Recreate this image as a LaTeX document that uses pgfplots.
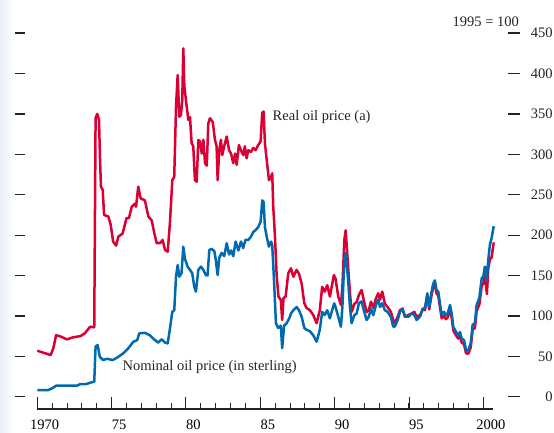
\documentclass[border=0pt]{standalone}
\usepackage{pgfplots}
\pgfplotsset{compat=1.18}
\usepackage{pgfplotstable}
\usepackage{fontspec}
\setmainfont{Liberation Serif}
\definecolor{realred}{RGB}{218,0,52}
\definecolor{nomblue}{RGB}{0,106,176}
\definecolor{tickc}{RGB}{35,35,35}
\definecolor{stripc}{RGB}{234,239,245}
\newcommand{\lblfont}{\fontsize{14.5}{17}\selectfont}

\pgfplotstableread{
year value
1970.00 57
1970.40 54.5
1970.90 51.6
1971.08 60
1971.26 76
1971.50 75
1972.00 71
1972.40 73.5
1972.90 75
1973.20 78.5
1973.55 86.6
1973.83 86
1973.92 345
1974.03 350
1974.15 342.5
1974.22 293
1974.28 260
1974.40 256
1974.49 225
1974.78 223
1974.94 212.5
1975.10 192
1975.30 187
1975.45 198
1975.74 202
1976.00 221
1976.16 221
1976.35 235
1976.57 239
1976.64 235
1976.79 260
1976.95 245.5
1977.24 243
1977.47 223
1977.70 218
1977.85 204
1978.03 190
1978.25 190
1978.43 194
1978.59 181.6
1978.77 179.5
1978.92 215
1979.08 268
1979.21 272
1979.33 359
1979.44 398
1979.55 346.5
1979.66 348.6
1979.75 367
1979.82 431
1979.89 384
1980.05 359
1980.16 342.5
1980.27 346
1980.38 313.6
1980.49 310
1980.60 268
1980.72 266
1980.83 317.7
1980.94 316
1981.06 301
1981.17 318
1981.28 289
1981.40 286
1981.50 338
1981.61 344.6
1981.80 340
1981.95 317.7
1982.06 310
1982.13 268
1982.24 305
1982.35 318
1982.44 299
1982.57 310
1982.74 322
1982.90 305
1983.03 301
1983.18 289
1983.30 301
1983.41 287
1983.56 311.5
1983.70 305
1983.85 299
1983.96 310
1984.08 295
1984.19 305
1984.37 303
1984.53 308
1984.68 305
1984.86 311.5
1985.02 316
1985.13 351.5
1985.22 353
1985.31 313.6
1985.43 293
1985.58 268
1985.72 272
1985.80 276.5
1985.87 235
1985.98 200
1986.10 150
1986.22 124
1986.38 119.7
1986.47 95
1986.56 122
1986.70 124
1986.88 152.7
1987.06 159
1987.22 148.5
1987.44 157
1987.60 152
1987.78 140
1987.96 115.6
1988.10 110
1988.34 107
1988.56 101
1988.79 91
1989.00 107
1989.16 136
1989.33 130
1989.50 138
1989.68 124
1989.80 136
1989.95 150.6
1990.06 146
1990.24 124
1990.42 113.5
1990.52 136
1990.65 194
1990.74 206
1990.80 190
1990.92 157
1991.03 128
1991.14 105
1991.33 115
1991.48 117
1991.63 126
1991.81 132
1991.99 117
1992.15 105
1992.30 107
1992.44 117.6
1992.60 110
1992.78 122
1992.93 128
1993.05 120
1993.20 130
1993.38 115
1993.56 111
1993.78 105
1993.94 95
1994.05 91
1994.24 99
1994.39 107
1994.56 109
1994.73 99
1994.95 101
1995.18 103
1995.36 105
1995.51 99
1995.74 101
1995.96 109
1996.07 107
1996.23 125
1996.36 108
1996.50 124
1996.63 136
1996.74 139
1996.85 128
1996.97 125
1997.08 111
1997.20 97
1997.35 100
1997.48 96
1997.60 98
1997.76 108
1997.87 98
1997.98 82
1998.16 76
1998.31 72
1998.43 75
1998.54 67
1998.70 65
1998.83 54
1998.98 53
1999.15 61
1999.28 83
1999.43 85
1999.55 106
1999.73 114
1999.89 137
2000.00 140
2000.10 150
2000.24 127
2000.33 158
2000.44 170
2000.55 172
2000.70 191
}\realtab

\pgfplotstableread{
year value
1970.00 8.3
1970.70 8
1971.00 10.4
1971.26 13.6
1971.70 13.6
1972.65 13.6
1972.90 15.7
1973.30 15.7
1973.55 17.3
1973.83 18.6
1973.92 62
1974.06 64
1974.20 49.5
1974.42 45.4
1974.69 47
1975.07 45.4
1975.38 48.5
1975.78 53.7
1976.12 60
1976.46 68
1976.72 70
1976.86 78.5
1977.24 79
1977.58 76
1977.85 71
1978.14 67
1978.36 71
1978.59 67
1978.77 66
1978.92 84
1979.08 105
1979.21 107
1979.33 148.5
1979.44 163
1979.55 148.5
1979.70 153
1979.82 185.6
1979.94 170
1980.11 161
1980.27 157
1980.42 152.7
1980.56 136
1980.67 130
1980.83 157
1981.01 161
1981.17 157
1981.33 150.6
1981.45 150
1981.57 181.6
1981.73 183
1981.91 180
1982.00 170
1982.13 150.6
1982.24 172
1982.40 178
1982.57 174
1982.74 190
1982.90 176
1983.03 181
1983.18 174
1983.34 192
1983.52 181
1983.70 192
1983.85 184
1984.00 194
1984.19 194
1984.37 198
1984.53 204
1984.68 206
1984.86 210
1985.02 216.6
1985.13 243
1985.22 241
1985.31 210
1985.43 198
1985.58 185.6
1985.72 192
1985.80 188
1985.92 144.4
1986.05 91
1986.20 85
1986.38 88
1986.47 60
1986.60 88
1986.77 91
1986.95 97
1987.06 103
1987.22 107
1987.44 111
1987.60 107
1987.78 99
1987.96 85
1988.10 83
1988.34 81
1988.56 76
1988.79 68
1989.00 83
1989.16 105
1989.33 101
1989.50 107
1989.68 97
1989.80 105
1989.97 115.6
1990.06 111
1990.24 99
1990.42 86.6
1990.52 111
1990.65 169
1990.74 177.5
1990.80 167
1990.92 140
1991.03 111
1991.14 91
1991.33 101
1991.48 103
1991.63 115.6
1991.81 118
1991.99 105
1992.15 95
1992.30 99
1992.44 109
1992.60 101
1992.78 113.5
1992.93 120
1993.05 111
1993.20 115.6
1993.38 107
1993.56 105
1993.78 99
1993.94 86.6
1994.05 87
1994.24 95
1994.39 105
1994.56 109
1994.73 99
1994.95 99
1995.18 103
1995.33 102
1995.51 95
1995.74 99
1995.92 109
1996.07 109
1996.23 128
1996.36 111
1996.50 128
1996.63 140
1996.74 144
1996.85 132
1996.97 130
1997.08 115.6
1997.20 101
1997.35 105
1997.48 101
1997.60 103
1997.76 113.5
1997.87 103
1997.98 86.6
1998.16 80.4
1998.31 76
1998.43 80
1998.54 72
1998.70 70
1998.83 58
1998.98 57
1999.15 66
1999.28 89
1999.43 91
1999.55 113.5
1999.73 122
1999.89 146.5
2000.00 149
2000.10 161
2000.22 144
2000.33 169
2000.44 188
2000.55 196
2000.70 211
}\nomtab

\begin{document}
\begin{tikzpicture}[x=1pt,y=1pt]
\useasboundingbox (0,0) rectangle (554,432);
\shade[left color=stripc, right color=white] (0,0) rectangle (14,432);
\begin{axis}[
  at={(37.3pt,23pt)}, anchor=south west,
  scale only axis, width=455.7pt, height=375.9pt,
  xmin=1970, xmax=2000.65, ymin=-15.2, ymax=450,
  axis x line*=bottom, axis y line=none,
  axis line style={tickc, line width=1.3pt, -},
  xtick={1970,1975,...,2000}, minor xtick={1971,...,1999},
  xticklabels={},
  tick align=inside,
  major tick length=12pt, minor tick length=6pt,
  every tick/.style={tickc, line width=1pt},
  extra x ticks={1970.5,1975.5,1980.5,1985.5,1990.5,1995.5,2000.5},
  extra x tick labels={1970,75,80,85,90,95,2000},
  extra x tick style={major tick length=0pt},
  xticklabel style={font=\lblfont, inner sep=0pt, anchor=north, yshift=-10.5pt},
  clip=false,
]
\addplot[realred, line width=2.5pt, line join=round] table[x=year, y=value] {\realtab};
\addplot[nomblue, line width=2.5pt, line join=round] table[x=year, y=value] {\nomtab};
\pgfplotsinvokeforeach{0,50,100,150,200,250,300,350,400,450}{
  \draw[tickc, line width=1.2pt] ([xshift=-22.3pt]axis cs:1970,#1) -- ([xshift=-12.3pt]axis cs:1970,#1);
  \draw[tickc, line width=1.2pt] ([xshift=15pt]axis cs:2000.65,#1) -- ([xshift=27pt]axis cs:2000.65,#1);
  \node[anchor=east, inner sep=0pt, font=\lblfont, text=tickc] at ([xshift=59.7pt]axis cs:2000.65,#1) {#1};
}
\end{axis}
\node[anchor=base east, inner sep=0pt, font=\lblfont, text=tickc] at (519,405.5) {1995 = 100};
\node[anchor=base west, inner sep=0pt, font=\lblfont, text=tickc] at (272.5,312) {Real oil price (a)};
\node[anchor=base west, inner sep=0pt, font=\lblfont, text=tickc] at (122.5,61.5) {Nominal oil price (in sterling)};
\end{tikzpicture}
\end{document}
